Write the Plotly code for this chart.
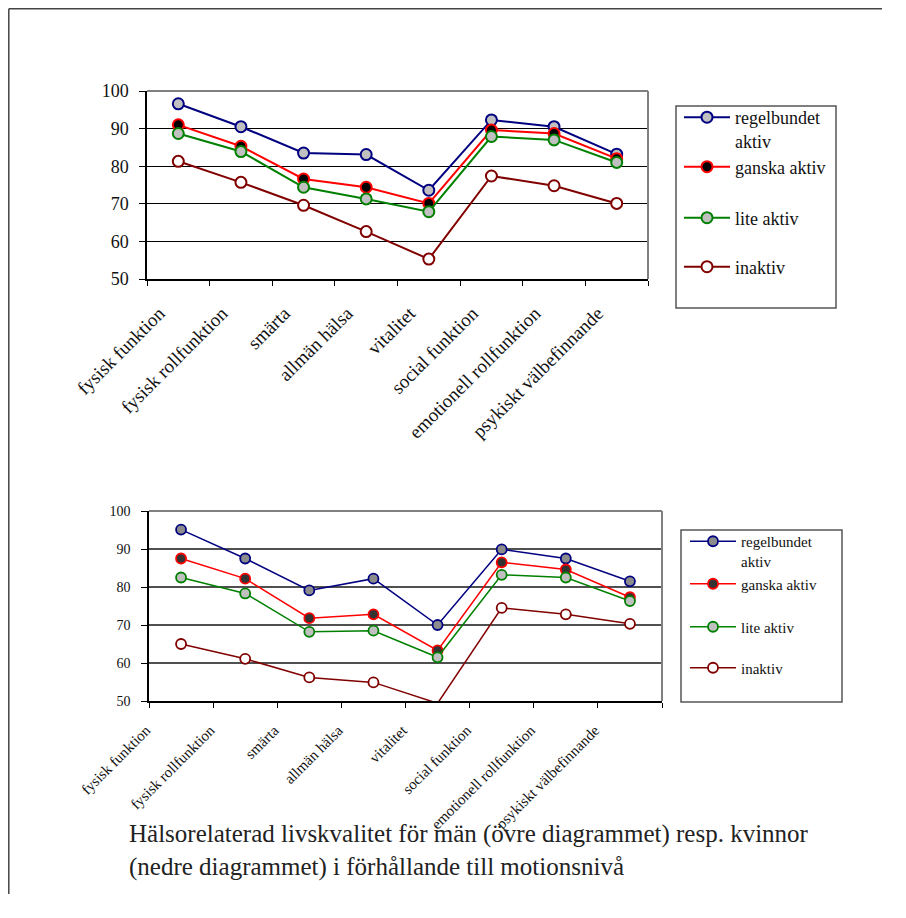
import plotly.graph_objects as go

# ---------------- data ----------------
categories = ["fysisk funktion", "fysisk rollfunktion", "smärta", "allmän hälsa",
              "vitalitet", "social funktion", "emotionell rollfunktion",
              "psykiskt välbefinnande"]
series_names = ["regelbundet<br>aktiv", "ganska aktiv", "lite aktiv", "inaktiv"]
y_ticks = [50, 60, 70, 80, 90, 100]

# men (upper chart)
men_regelbundet = [96.6, 90.5, 83.5, 83.1, 73.6, 92.3, 90.5, 83.2]
men_ganska = [91.0, 85.3, 76.6, 74.4, 70.1, 89.6, 88.7, 82.0]
men_lite = [88.7, 83.9, 74.4, 71.3, 67.9, 87.9, 87.0, 81.0]
men_inaktiv = [81.3, 75.7, 69.6, 62.6, 55.3, 77.4, 74.8, 70.1]

# women (lower chart)
women_regelbundet = [95.1, 87.5, 79.1, 82.2, 70.0, 89.9, 87.5, 81.5]
women_ganska = [87.5, 82.2, 71.8, 72.8, 63.3, 86.5, 84.6, 77.3]
women_lite = [82.5, 78.3, 68.2, 68.5, 61.5, 83.2, 82.5, 76.3]
women_inaktiv = [65.0, 61.1, 56.2, 54.9, 49.4, 74.5, 72.8, 70.3]

caption = ("Hälsorelaterad livskvalitet för män (övre diagrammet) resp. kvinnor<br>"
           "(nedre diagrammet) i förhållande till motionsnivå")

# ---------------- styling ----------------
OFF = 8  # default page body margin
W, H = 906 - 4 * OFF, 918 - 4 * OFF   # leave room so the page never scrolls
FONT = "Liberation Serif"
line_colors = ["#000080", "#FF0000", "#008000", "#800000"]
top_fill = ["#C0C0C0", "#000000", "#C0C0C0", "#FFFFFF"]
bot_fill = ["#8C8C8C", "#333333", "#C0C0C0", "#FFFFFF"]


def px(x):
    return (x - OFF) / W


def py(y):
    return 1 - (y - OFF) / H


fig = go.Figure()

top_series = [men_regelbundet, men_ganska, men_lite, men_inaktiv]
bot_series = [women_regelbundet, women_ganska, women_lite, women_inaktiv]

for i, (name, vals) in enumerate(zip(series_names, top_series)):
    fig.add_trace(go.Scatter(
        x=categories, y=vals, name=name, mode="lines+markers",
        xaxis="x", yaxis="y", cliponaxis=False,
        line=dict(color=line_colors[i], width=2),
        marker=dict(symbol="circle", size=11, color=top_fill[i],
                    line=dict(color=line_colors[i], width=2)),
        legend="legend" if i == 0 else f"legend{i + 1}",
    ))

for i, (name, vals) in enumerate(zip(series_names, bot_series)):
    fig.add_trace(go.Scatter(
        x=categories, y=vals, name=name, mode="lines+markers",
        xaxis="x2", yaxis="y2", cliponaxis=False,
        line=dict(color=line_colors[i], width=1.5),
        marker=dict(symbol="circle", size=10, color=bot_fill[i],
                    line=dict(color=line_colors[i], width=1.8)),
        legend=f"legend{i + 5}",
    ))

# legend rows (pixel centres of each entry)
top_leg_y = [129, 167, 218, 267]
bot_leg_y = [551, 584, 627, 668]
legends = {}
for i in range(4):
    key = "legend" if i == 0 else f"legend{i + 1}"
    legends[key] = dict(
        x=px(679), y=py(top_leg_y[i]), xanchor="left", yanchor="middle",
        bgcolor="rgba(0,0,0,0)", borderwidth=0, itemwidth=46,
        valign="top", font=dict(family=FONT, size=18, color="#111"),
        itemclick=False, itemdoubleclick=False,
    )
    legends[f"legend{i + 5}"] = dict(
        x=px(685), y=py(bot_leg_y[i]), xanchor="left", yanchor="middle",
        bgcolor="rgba(0,0,0,0)", borderwidth=0, itemwidth=46,
        valign="top", font=dict(family=FONT, size=15, color="#111"),
        itemclick=False, itemdoubleclick=False,
    )

common_x = dict(
    type="category", range=[-0.5, 7.5], tickson="boundaries",
    ticks="outside", ticklen=5, tickcolor="#000", tickwidth=1,
    showline=True, linecolor="#000", linewidth=1.5, automargin=False,
    showgrid=False, zeroline=False, tickangle=-45, fixedrange=True,
)
common_y = dict(
    range=[50, 100], tickvals=y_ticks, ticks="outside", ticklen=6,
    tickcolor="#000", showline=True, linecolor="#000", linewidth=1.5,
    zeroline=False, fixedrange=True, automargin=False,
)

fig.update_layout(
    width=W, height=H, margin=dict(l=0, r=0, t=0, b=0, autoexpand=False),
    paper_bgcolor="white", plot_bgcolor="rgba(0,0,0,0)",
    showlegend=True,
    xaxis=dict(**common_x, domain=[px(147), px(648)], anchor="y",
               tickfont=dict(family=FONT, size=19, color="#111"),
               ticklabelshift=-19, ticklabelstandoff=14),
    yaxis=dict(**common_y, domain=[py(279), py(91)], anchor="x",
               gridcolor="#000", gridwidth=1, ticklabelstandoff=7,
               tickfont=dict(family=FONT, size=18, color="#111")),
    xaxis2=dict(**common_x, domain=[px(149), px(662)], anchor="y2",
                tickfont=dict(family=FONT, size=15, color="#111"),
                ticklabelshift=-35, ticklabelstandoff=13),
    yaxis2=dict(**common_y, domain=[py(701), py(511)], anchor="x2",
                gridcolor="#505050", gridwidth=1.5,
                tickfont=dict(family=FONT, size=14, color="#111"),
                ticklabelstandoff=8),
    **legends,
)

frame_line = dict(color="#808080", width=2)
outer_line = dict(color="#444", width=1.5)
shapes = [
    # plot area frames (grey top/right edges)
    dict(type="line", xref="x domain", yref="y domain", x0=0, x1=1, y0=1, y1=1, line=frame_line),
    dict(type="line", xref="x domain", yref="y domain", x0=1, x1=1, y0=0, y1=1, line=frame_line),
    dict(type="line", xref="x2 domain", yref="y2 domain", x0=0, x1=1, y0=1, y1=1, line=frame_line),
    dict(type="line", xref="x2 domain", yref="y2 domain", x0=1, x1=1, y0=0, y1=1, line=frame_line),
    # legend boxes
    dict(type="rect", xref="paper", yref="paper", x0=px(676), x1=px(836),
         y0=py(308), y1=py(106), line=dict(color="#555", width=1.5)),
    dict(type="rect", xref="paper", yref="paper", x0=px(681), x1=px(842),
         y0=py(702), y1=py(530), line=dict(color="#555", width=1.5)),
    # outer frame: left and top edges
    dict(type="line", xref="paper", yref="paper", x0=0.8 / W, x1=0.8 / W,
         y0=0, y1=1 - 0.8 / H, line=outer_line),
    dict(type="line", xref="paper", yref="paper", x0=0.8 / W, x1=1,
         y0=1 - 0.8 / H, y1=1 - 0.8 / H, line=outer_line),
]
fig.update_layout(shapes=shapes)

fig.add_annotation(
    text=caption, xref="paper", yref="paper", x=px(127), y=py(818),
    xanchor="left", yanchor="top", align="left", showarrow=False,
    font=dict(family=FONT, size=25, color="#222"),
)

fig.write_html("out.html", config={"displayModeBar": False})
